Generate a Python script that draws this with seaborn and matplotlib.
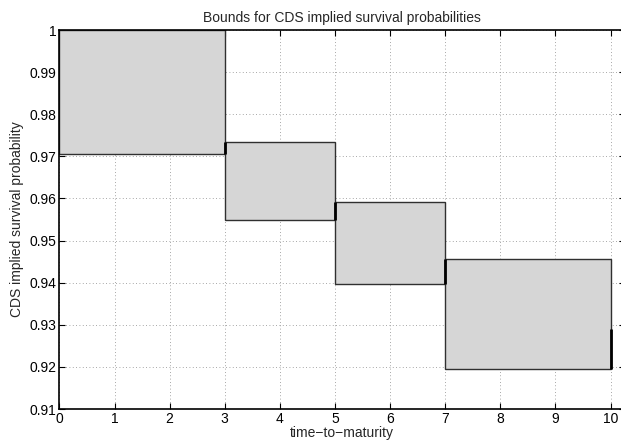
import matplotlib
matplotlib.use("Agg")
import matplotlib.pyplot as plt
import seaborn as sns
import pandas as pd

# Data
left = [0, 3, 5, 7]
right = [3, 5, 7, 10]
lower = [0.9706, 0.9549, 0.9398, 0.9195]
upper = [1.0, 0.9733, 0.9592, 0.9457]
seg_x = [3, 5, 7, 10]
seg_lo = [0.9706, 0.9549, 0.9398, 0.9195]
seg_hi = [0.9733, 0.9592, 0.9457, 0.9290]
xticks = list(range(0, 11))
yticks = [0.91, 0.92, 0.93, 0.94, 0.95, 0.96, 0.97, 0.98, 0.99, 1.0]
ytick_labels = ["0.91", "0.92", "0.93", "0.94", "0.95", "0.96", "0.97", "0.98", "0.99", "1"]

df = pd.DataFrame({"left": left, "right": right, "lower": lower, "upper": upper})

sns.set_theme(style="ticks")
plt.rcParams["font.family"] = ["Liberation Sans", "DejaVu Sans"]
plt.rcParams["font.size"] = 10

fig = plt.figure(figsize=(6.21, 4.44), dpi=100)
ax = fig.add_axes([0.0957, 0.0788, 0.9100, 0.8536])

ax.bar(df["left"], df["upper"] - df["lower"], width=df["right"] - df["left"],
       bottom=df["lower"], align="edge", color="#d6d6d6", edgecolor="#303030",
       linewidth=1.0, zorder=2)
ax.vlines(seg_x, seg_lo, seg_hi, colors="black", linewidth=2.0, zorder=3)

ax.set_xlim(0, 10.254)
ax.set_ylim(0.91, 1.0)
ax.set_xticks(xticks)
ax.set_xticklabels([str(t) for t in xticks])
ax.set_yticks(yticks)
ax.set_yticklabels(ytick_labels)
ax.grid(True, color="#8a8a8a", linestyle=(0, (1, 3)), linewidth=0.6, zorder=0)
ax.set_axisbelow(True)

for s in ax.spines.values():
    s.set_visible(True)
    s.set_linewidth(1.2)
    s.set_color("black")
ax.tick_params(direction="in", length=4, width=0.8, top=True, right=True,
               labelsize=10, colors="black", pad=2)

ax.set_title("Bounds for CDS implied survival probabilities", fontsize=10, pad=6)
ax.set_xlabel("time\u2212to\u2212maturity", fontsize=10, labelpad=0)
ax.set_ylabel("CDS implied survival probability", fontsize=10, labelpad=4)

fig.savefig("out.png", dpi=100)
